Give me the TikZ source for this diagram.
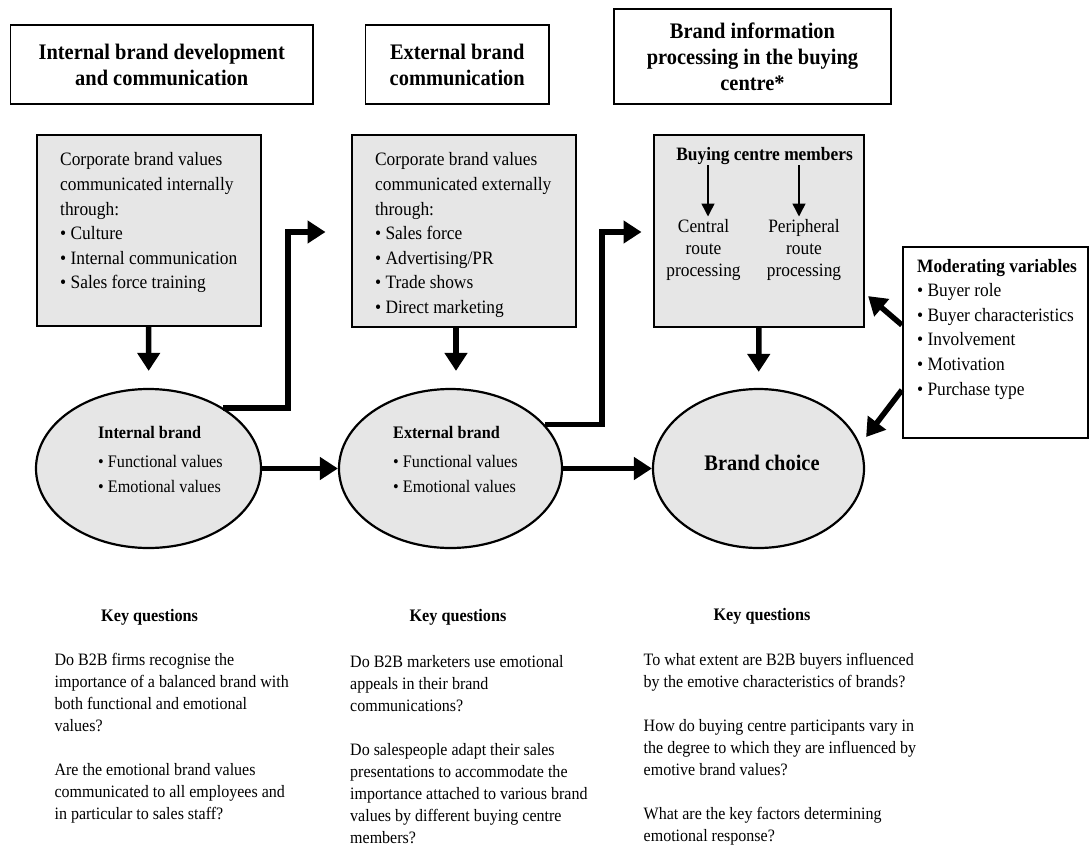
\documentclass[tikz,border=0pt]{standalone}
\usepackage{fontspec}
\setmainfont{Liberation Serif}[FakeStretch=0.92]
\usetikzlibrary{arrows.meta}
\usetikzlibrary{shapes.geometric}
\usetikzlibrary{calc}
\definecolor{boxgrey}{RGB}{230,230,230}
\tikzset{hdr/.style={draw, line width=1.3pt, inner sep=0pt, align=center, font=\fontsize{22.2}{26}\selectfont\bfseries}}
\tikzset{gbox/.style={draw, line width=2.2pt, fill=boxgrey, inner sep=0pt}}
\tikzset{oval/.style={ellipse, draw, line width=2.2pt, fill=boxgrey, inner sep=0pt, minimum height=159pt}}
\tikzset{txt/.style={inner sep=0pt, anchor=north west, align=left, font=\fontsize{18.9}{24.6}\selectfont}}
\tikzset{ovtxt/.style={inner sep=0pt, anchor=north west, align=left, font=\fontsize{17.6}{25}\selectfont}}
\tikzset{route/.style={inner sep=0pt, anchor=north, align=center, font=\fontsize{18.9}{22}\selectfont}}
\tikzset{kq/.style={inner sep=0pt, anchor=base, font=\fontsize{17.6}{22}\selectfont\bfseries}}
\tikzset{ques/.style={inner sep=0pt, anchor=north west, align=left, font=\fontsize{17.4}{22}\selectfont}}
\tikzset{fat/.style={->, >={Triangle[length=18pt,width=22pt]}, line width=5.5pt}}
\tikzset{slim/.style={->, >={Triangle[length=13pt,width=13pt]}, line width=1.5pt}}

\begin{document}
\begin{tikzpicture}[x=1pt,y=-1pt]
\useasboundingbox (0,0) rectangle (1090,849);

% column headings
\node[hdr, minimum width=302.5pt, minimum height=79pt] (H1) at (161.75,64.5) {Internal brand development\\and communication};
\node[hdr, minimum width=183.5pt, minimum height=79pt] (H2) at (457.25,64.5) {External brand\\communication};
\node[hdr, minimum width=277pt, minimum height=95pt] (H3) at (752.5,56.5) {Brand information\\processing in the buying\\centre*};

% brands
\node[oval, minimum width=211pt] (BC) at (758.5,468.5) {};
\node[oval, minimum width=223pt] (EB) at (450.5,468.5) {}
  edge [fat] (BC);
\node[oval, minimum width=225pt] (IB) at (148.5,468.5) {}
  edge [fat] (EB);
\node[font=\fontsize{22.2}{26}\selectfont\bfseries, anchor=base, inner sep=0pt] (BCt) at ($(BC.center)+(3.5,1.5)$) {Brand choice};
\node[ovtxt] (IBt) at ($(IB.center)+(-50.5,-48)$) {\strut\textbf{Internal brand}\\[4pt]• Functional values\\• Emotional values};
\node[ovtxt] (EBt) at ($(EB.center)+(-57.5,-48)$) {\strut\textbf{External brand}\\[4pt]• Functional values\\• Emotional values};

% grey boxes
\node[gbox, minimum width=224pt, minimum height=191pt] (B1) at (148.9,230.5) {}
  edge [fat, shorten >=17pt] (IB);
\node[gbox, minimum width=224pt, minimum height=192pt] (B2) at (464,231) {};
\node[gbox, minimum width=210pt, minimum height=192pt] (B3) at (759,231) {}
  edge [fat, shorten >=16pt] (BC);
\draw[fat] ([xshift=-8pt]B2.south) -- ([xshift=5.5pt,yshift=17pt]EB.north);

\node[txt] (B1t) at ($(B1.north west)+(24.2,14.5)$) {\strut Corporate brand values\\communicated internally\\through:\\• Culture\\• Internal communication\\• Sales force training};
\node[txt] (B2t) at ($(B2.north west)+(24,14.5)$) {\strut Corporate brand values\\communicated externally\\through:\\• Sales force\\• Advertising/PR\\• Trade shows\\• Direct marketing};

\node[font=\fontsize{18.9}{24}\selectfont\bfseries, anchor=base, inner sep=0pt] (BCM) at ($(B3.north)+(5.6,27)$) {Buying centre members};
\node[route] (CR) at ($(B3.north)+(-55.5,82.6)$) {\strut Central\\route\\processing};
\node[route] (PR) at ($(B3.north)+(45,82.6)$) {\strut Peripheral\\route\\processing};
\draw[slim] ([xshift=4.5pt]BCM.south -| CR.north) -- ([xshift=4.5pt]CR.north);
\draw[slim] ([xshift=-5pt]BCM.south -| PR.north) -- ([xshift=-5pt]PR.north);

% elbows into the next stage
\coordinate (c1) at (288,232);
\coordinate (p1) at (325.5,232);
\draw[fat] (IB.39) -| (c1) -- (p1);
\coordinate (c2) at (602,232);
\coordinate (p2) at (641.5,232);
\draw[fat] (EB.25) -| (c2) -- (p2);

% moderating variables
\node[draw, line width=2.2pt, inner sep=0pt, minimum width=185pt, minimum height=191pt] (MV) at (995.5,342.5) {};
\node[txt] (MVt) at ($(MV.north west)+(15,8.8)$) {\strut\textbf{Moderating variables}\\• Buyer role\\• Buyer characteristics\\• Involvement\\• Motivation\\• Purchase type};
\draw[fat] ($(MV.west)+(0,-17.5)$) -- ($(B3.south east)+(3,-32)$);
\draw[fat] ($(MV.west)+(0,47.5)$) -- ($(BC.east)+(1,-31.5)$);

% key questions
\node[kq] (K1) at (149.6,621) {Key questions};
\node[kq] (K2) at (458,621) {Key questions};
\node[kq] (K3) at (762,620) {Key questions};
\node[ques] (Q1) at (54.4,649.6) {\strut Do B2B firms recognise the\\importance of a balanced brand with\\both functional and emotional\\values?\\[22pt]Are the emotional brand values\\communicated to all employees and\\in particular to sales staff?};
\node[ques] (Q2) at (350,651.6) {\strut Do B2B marketers use emotional\\appeals in their brand\\communications?\\[22pt]Do salespeople adapt their sales\\presentations to accommodate the\\importance attached to various brand\\values by different buying centre\\members?};
\node[ques] (Q3) at (643.5,649.6) {\strut To what extent are B2B buyers influenced\\by the emotive characteristics of brands?\\[22pt]How do buying centre participants vary in\\the degree to which they are influenced by\\emotive brand values?\\[22pt]What are the key factors determining\\emotional response?};
\end{tikzpicture}
\end{document}
